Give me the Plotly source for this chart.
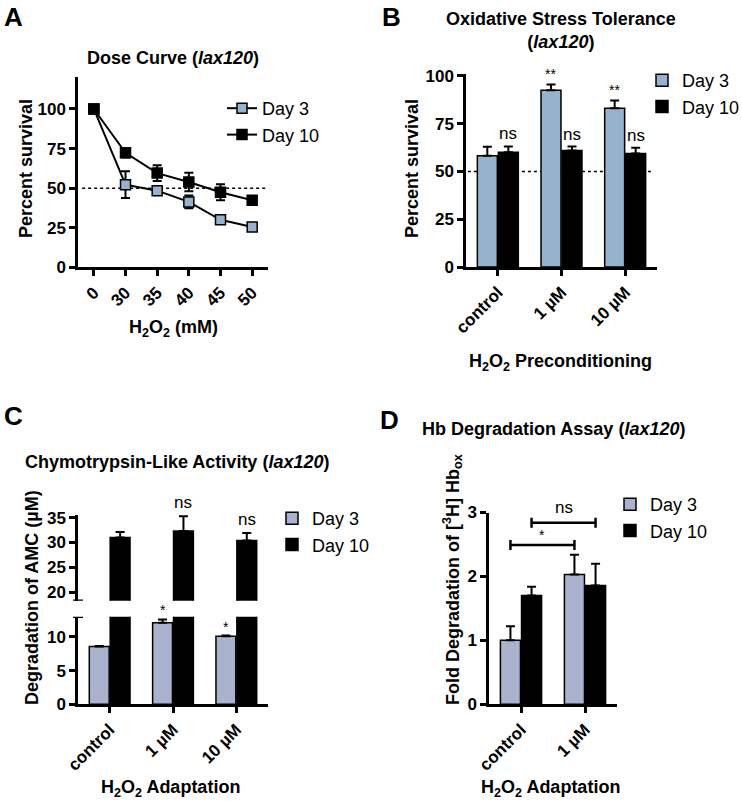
import plotly.graph_objects as go

W, H = 742, 801
FONT = "Liberation Sans, Arial, sans-serif"

# ---------------- data ----------------
# Panel A: dose curve
doses = ['0', '30', '35', '40', '45', '50']
a_day3 = [100, 52.2, 48.4, 41.3, 30.0, 25.4]
a_day3_err = [0, 8.5, 1.5, 4.0, 1.0, 0.5]
a_day10 = [100, 72.3, 59.5, 53.9, 47.4, 42.3]
a_day10_err = [0, 3.0, 5.0, 5.8, 5.0, 1.0]

# Panel B: oxidative stress tolerance
b_groups = ['control', '1 µM', '10 µM']
b_day3 = [58.2, 92.5, 83.1]
b_day3_err = [4.7, 3.0, 4.0]
b_day10 = [60.1, 61.0, 59.4]
b_day10_err = [3.0, 2.0, 3.0]
b_sig_day3 = ['', '**', '**']
b_sig_day10 = ['ns', 'ns', 'ns']

# Panel C: chymotrypsin-like activity
c_groups = ['control', '1 µM', '10 µM']
c_day3 = [8.56, 12.1, 10.1]
c_day3_err = [0.1, 0.5, 0.1]
c_day10 = [31.0, 32.3, 30.4]
c_day10_err = [1.1, 3.0, 1.5]
c_sig_day3 = ['', '*', '*']
c_sig_day10 = ['', 'ns', 'ns']

# Panel D: Hb degradation
d_groups = ['control', '1 µM']
d_day3 = [1.0, 2.03]
d_day3_err = [0.22, 0.31]
d_day10 = [1.70, 1.86]
d_day10_err = [0.14, 0.34]
d_brackets = [  # (from series/group, to series/group, label)
    (('day3', 0), ('day3', 1), '*'),
    (('day10', 0), ('day10', 1), 'ns'),
]
d_bracket_y = [2.49, 2.84]

# ---------------- style ----------------
BLUE = '#97b2cc'
LAV = '#aab2cd'
BARGAP = 0.34
BARGROUPGAP = 0.05
OFF = (1 - BARGAP) / 4  # centre offset of each bar within a group


def px(x):
    return x / W


def py(y):
    return 1 - y / H


axis_common = dict(
    showline=True, linecolor='black', linewidth=2.5,
    ticks='outside', ticklen=6, tickwidth=2.5, tickcolor='black',
    tickfont=dict(family=FONT, size=17, color='black', weight='bold'),
    showgrid=False, zeroline=False, automargin=False,
)


def xcat(domain, anchor, cats, **kw):
    d = dict(axis_common)
    d.update(domain=[px(domain[0]), px(domain[1])], anchor=anchor,
             type='category', categoryorder='array', categoryarray=cats,
             range=[-0.5, len(cats) - 0.5], tickangle=-45)
    d.update(kw)
    return d


def yax(domain, anchor, rng, **kw):
    d = dict(axis_common)
    d.update(domain=[py(domain[1]), py(domain[0])], anchor=anchor, range=rng)
    d.update(kw)
    return d


def err(arr, symmetric=False):
    e = dict(type='data', array=arr, color='black', thickness=2, width=4.5, visible=True)
    if symmetric:
        e['symmetric'] = True
    else:
        e['symmetric'] = False
        e['arrayminus'] = [0] * len(arr)
    return e


fig = go.Figure()

# ---- A ----
fig.add_trace(go.Scatter(
    x=doses, y=a_day3, name='Day 3', mode='lines+markers',
    line=dict(color='black', width=2),
    marker=dict(symbol='square', size=10, color=BLUE, line=dict(color='black', width=1.5)),
    error_y=err(a_day3_err, symmetric=True), xaxis='x', yaxis='y', legend='legend'))
fig.add_trace(go.Scatter(
    x=doses, y=a_day10, name='Day 10', mode='lines+markers',
    line=dict(color='black', width=2),
    marker=dict(symbol='square', size=10, color='black', line=dict(color='black', width=1.5)),
    error_y=err(a_day10_err, symmetric=True), xaxis='x', yaxis='y', legend='legend'))

# ---- B ----
fig.add_trace(go.Bar(x=b_groups, y=b_day3, name='Day 3', marker=dict(color=BLUE, line=dict(color='black', width=1.5)),
                     error_y=err(b_day3_err), xaxis='x2', yaxis='y2', legend='legend2'))
fig.add_trace(go.Bar(x=b_groups, y=b_day10, name='Day 10', marker=dict(color='black', line=dict(color='black', width=1.5)),
                     error_y=err(b_day10_err), xaxis='x2', yaxis='y2', legend='legend2'))

# ---- C (broken axis: lower x3/y3, upper x4/y4) ----
fig.add_trace(go.Bar(x=c_groups, y=c_day3, name='Day 3', marker=dict(color=LAV, line=dict(color='black', width=1.5)),
                     error_y=err(c_day3_err), xaxis='x3', yaxis='y3', legend='legend3'))
fig.add_trace(go.Bar(x=c_groups, y=c_day10, name='Day 10', marker=dict(color='black', line=dict(color='black', width=1.5)),
                     xaxis='x3', yaxis='y3', legend='legend3'))
fig.add_trace(go.Bar(x=c_groups, y=c_day3, name='Day 3', marker=dict(color=LAV, line=dict(color='black', width=1.5)),
                     xaxis='x4', yaxis='y4', showlegend=False))
fig.add_trace(go.Bar(x=c_groups, y=c_day10, name='Day 10', marker=dict(color='black', line=dict(color='black', width=1.5)),
                     error_y=err(c_day10_err), xaxis='x4', yaxis='y4', showlegend=False))

# ---- D ----
fig.add_trace(go.Bar(x=d_groups, y=d_day3, name='Day 3', marker=dict(color=LAV, line=dict(color='black', width=1.5)),
                     error_y=err(d_day3_err), xaxis='x5', yaxis='y5', legend='legend4'))
fig.add_trace(go.Bar(x=d_groups, y=d_day10, name='Day 10', marker=dict(color='black', line=dict(color='black', width=1.5)),
                     error_y=err(d_day10_err), xaxis='x5', yaxis='y5', legend='legend4'))

annotations = []
shapes = []


def text(t, x, y, size=18, angle=0, **kw):
    a = dict(text=t, x=px(x), y=py(y), xref='paper', yref='paper', showarrow=False,
             font=dict(family=FONT, size=size, color='black'), textangle=angle,
             xanchor='center', yanchor='middle')
    a.update(kw)
    annotations.append(a)


# panel letters
text('<b>A</b>', 13, 0, size=26, yanchor='top')
text('<b>B</b>', 391, 0, size=26, yanchor='top')
text('<b>C</b>', 13, 399, size=26, yanchor='top')
text('<b>D</b>', 389, 403, size=26, yanchor='top')

# titles
text('<b>Dose Curve (<i>lax120</i>)</b>', 173, 58)
text('<b>Oxidative Stress Tolerance<br>(<i>lax120</i>)</b>', 561, 31)
text('<b>Chymotrypsin-Like Activity (<i>lax120</i>)</b>', 177, 462)
text('<b>Hb Degradation Assay (<i>lax120</i>)</b>', 553, 429)

# axis titles
text('<b>Percent survival</b>', 26, 169, angle=-90)
text('<b>Percent survival</b>', 412, 169, angle=-90)
text('<b>Degradation of AMC (µM)</b>', 32, 598, angle=-90)
text('<b>Fold Degradation of [<sup>3</sup>H] Hb<sub>ox</sub></b>', 452, 579, angle=-90)
text('<b>H<sub>2</sub>O<sub>2</sub> (mM)</b>', 173, 328)
text('<b>H<sub>2</sub>O<sub>2</sub> Preconditioning</b>', 560, 362)
text('<b>H<sub>2</sub>O<sub>2</sub> Adaptation</b>', 170, 788)
text('<b>H<sub>2</sub>O<sub>2</sub> Adaptation</b>', 550, 788)


def sig(label, x, y, xref, yref, size, yshift):
    if not label:
        return
    annotations.append(dict(text=label, x=x, y=y, xref=xref, yref=yref, showarrow=False,
                            font=dict(family=FONT, size=size, color='black'),
                            xanchor='center', yanchor='bottom', yshift=yshift))


for i in range(len(b_groups)):
    sig(b_sig_day3[i], i - OFF, b_day3[i] + b_day3_err[i], 'x2', 'y2', 14, 1)
    sig(b_sig_day10[i], i + OFF, b_day10[i] + b_day10_err[i], 'x2', 'y2', 17, 1)
for i in range(len(c_groups)):
    sig(c_sig_day3[i], i - OFF, c_day3[i] + c_day3_err[i], 'x3', 'y3', 14, -1)
    sig(c_sig_day10[i], i + OFF, c_day10[i] + c_day10_err[i], 'x4', 'y4', 17, 2)

# dotted 50% reference lines
shapes.append(dict(type='line', xref='x', yref='y', x0=-0.37, x1=5.46, y0=50, y1=50,
                   line=dict(color='black', width=1.5, dash='dot'), layer='below'))
shapes.append(dict(type='line', xref='x2', yref='y2', x0=-0.47, x1=2.44, y0=50, y1=50,
                   line=dict(color='black', width=1.5, dash='dot'), layer='below'))

# broken-axis end caps for C
for yref, yv in (('y3', 13), ('y4', 18.27)):
    shapes.append(dict(type='line', xref='x3 domain', x0=-5, x1=5, xsizemode='pixel', xanchor=0,
                       yref=yref, y0=yv, y1=yv, line=dict(color='black', width=2.5)))

# significance brackets in D
pos = {'day3': -OFF, 'day10': OFF}
for ((s0, g0), (s1, g1), lab), yb in zip(d_brackets, d_bracket_y):
    xa, xb = g0 + pos[s0], g1 + pos[s1]
    shapes.append(dict(type='line', xref='x5', yref='y5', x0=xa, x1=xb, y0=yb, y1=yb,
                       line=dict(color='black', width=2.5)))
    for xx in (xa, xb):
        shapes.append(dict(type='line', xref='x5', yref='y5', x0=xx, x1=xx,
                           ysizemode='pixel', yanchor=yb, y0=-5, y1=5,
                           line=dict(color='black', width=2.5)))
    annotations.append(dict(text=lab, x=(xa + xb) / 2, y=yb, xref='x5', yref='y5', showarrow=False,
                            font=dict(family=FONT, size=17 if lab == 'ns' else 14, color='black'),
                            xanchor='center', yanchor='bottom', yshift=4 if lab == 'ns' else 0))

legend_common = dict(font=dict(family=FONT, size=18, color='black'), bgcolor='rgba(0,0,0,0)',
                     xanchor='left', yanchor='top', tracegroupgap=0)

fig.update_layout(
    width=W, height=H, autosize=False,
    margin=dict(l=0, r=0, t=0, b=0, pad=0, autoexpand=False),
    paper_bgcolor='white', plot_bgcolor='white',
    barmode='group', bargap=BARGAP, bargroupgap=BARGROUPGAP,
    font=dict(family=FONT, color='black'),
    xaxis=xcat((78, 268), 'y', doses),
    yaxis=yax((77.3, 267.3), 'x', [0, 120], tickvals=[0, 25, 50, 75, 100]),
    xaxis2=xcat((466, 657), 'y2', b_groups),
    yaxis2=yax((74, 267), 'x2', [0, 101], tickvals=[0, 25, 50, 75, 100]),
    xaxis3=xcat((78, 268), 'y3', c_groups),
    yaxis3=yax((616.7, 704.3), 'x3', [0, 13], tickvals=[0, 5, 10]),
    xaxis4=dict(domain=[px(78), px(268)], anchor='y4', type='category', categoryorder='array',
                categoryarray=c_groups, range=[-0.5, 2.5], visible=False),
    yaxis4=yax((515, 600.7), 'x4', [18.27, 35.54], tickvals=[20, 25, 30, 35]),
    xaxis5=xcat((489, 617), 'y5', d_groups),
    yaxis5=yax((512.5, 704.3), 'x5', [0, 3], tickvals=[0, 1, 2, 3]),
    legend=dict(legend_common, x=px(222), y=py(90)),
    legend2=dict(legend_common, x=px(642), y=py(62)),
    legend3=dict(legend_common, x=px(272), y=py(500)),
    legend4=dict(legend_common, x=px(610), y=py(486)),
    annotations=annotations,
    shapes=shapes,
    showlegend=True,
)

fig.write_html('out.html', config={'displayModeBar': False},
               post_script="document.body.style.margin='0';document.body.style.overflow='hidden';")
